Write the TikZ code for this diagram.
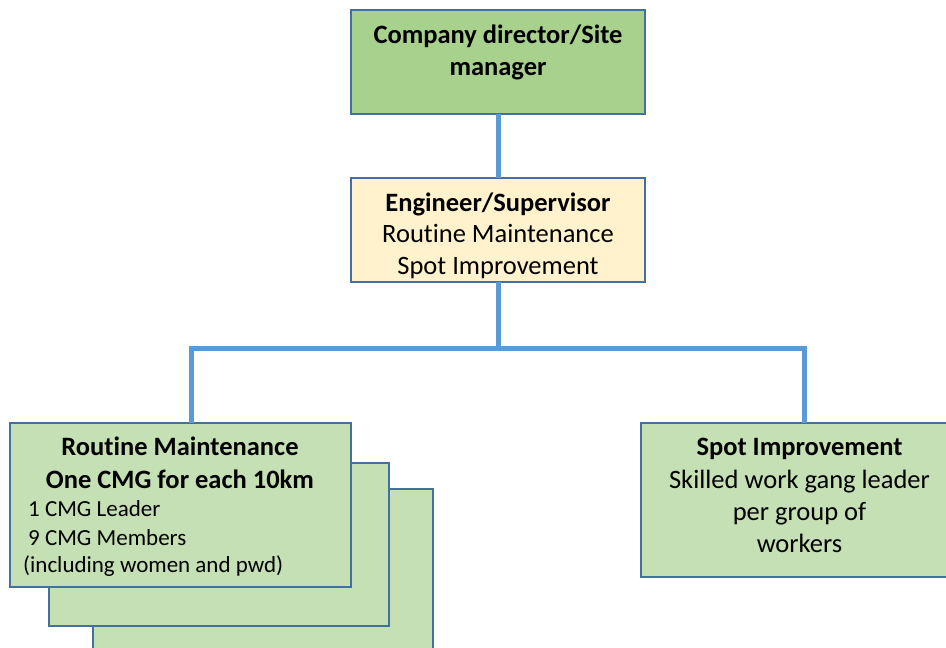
\documentclass[tikz,border=0pt]{standalone}
\usepackage{fontspec}
\setmainfont{Carlito}[Ligatures=NoCommon]
\definecolor{linkblue}{HTML}{5B9BD5}
\definecolor{edgeblue}{HTML}{41719C}
\definecolor{topgreen}{HTML}{A9D18E}
\definecolor{lightgreen}{HTML}{C5E0B4}
\definecolor{cream}{HTML}{FFF2CC}
\tikzset{
  box/.style={draw=edgeblue, line width=2pt, rectangle, inner sep=0pt, outer sep=0pt},
  conn/.style={draw=linkblue, line width=5pt},
  big/.style={anchor=base, inner sep=0pt, font=\fontsize{26.5}{32}\selectfont},
  bigb/.style={big, font=\fontsize{26.5}{32}\selectfont\bfseries},
  small/.style={anchor=base west, inner sep=0pt, font=\fontsize{23}{28}\selectfont},
}
\begin{document}
\begin{tikzpicture}[x=1pt,y=-1pt]
\useasboundingbox (0,0) rectangle (946,648);
\clip (0,0) rectangle (946,648);
\fill[white] (0,0) rectangle (946,648);
% boxes
\node[box, fill=topgreen, minimum width=294pt, minimum height=104pt] (top) at (498,62) {};
\node[box, fill=cream, minimum width=294pt, minimum height=104pt] (eng) at (498,230) {};
\node[box, fill=lightgreen, minimum width=340pt, minimum height=164pt] (rmc) at (263,571) {};
\node[box, fill=lightgreen, minimum width=340pt, minimum height=163pt] (rmb) at (219,544.5) {};
\node[box, fill=lightgreen, minimum width=341pt, minimum height=164pt] (rma) at (180.5,505) {};
\node[box, fill=lightgreen, minimum width=316pt, minimum height=154pt] (sp) at (799,500) {};
% connectors
\coordinate (jl) at (191,348);
\coordinate (jr) at (804,348);
\draw[conn] (top.south) -- (eng.north);
\draw[conn] (eng.south) -- (eng.south |- jl);
\draw[conn] (jl |- rma.north) -- (jl) -- (jr) -- (jr |- sp.north);
% texts
\node[bigb] (t1) at (498,43) {Company director/Site};
\node[bigb] (t2) at (498,75) {manager};
\node[bigb] (e1) at (498,211) {Engineer/Supervisor};
\node[big] (e2) at (498,242) {Routine Maintenance};
\node[big] (e3) at (498,274) {Spot Improvement};
\node[bigb] (r1) at (180,455) {Routine Maintenance};
\node[bigb] (r2) at (180,488) {One CMG for each 10km};
\node[small] (r3) at (28,516) {1 CMG Leader};
\node[small] (r4) at (28,545) {9 CMG Members};
\node[small] (r5) at (23,572) {(including women and pwd)};
\node[bigb] (s1) at (799.5,455) {Spot Improvement};
\node[big] (s2) at (799.5,488) {Skilled work gang leader};
\node[big] (s3) at (799.5,520) {per group of};
\node[big] (s4) at (799.5,552) {workers};
\end{tikzpicture}
\end{document}
